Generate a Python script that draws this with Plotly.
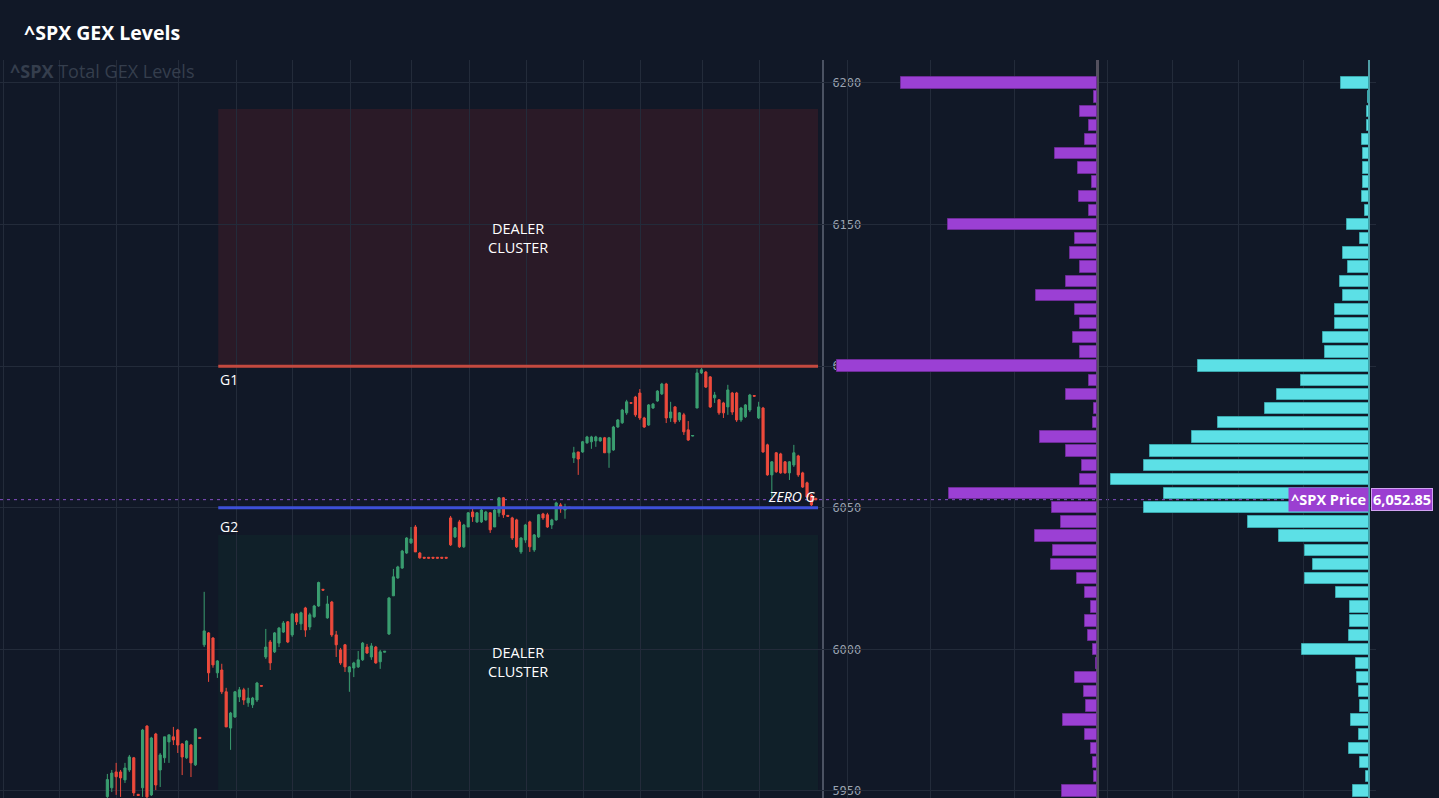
import plotly.graph_objects as go

# ---------------- data ----------------
title_text = "^SPX GEX Levels"
watermark_text = "<b>^SPX</b> Total GEX Levels"

opens = [5948.0, 5951.1, 5956.7, 5956.7, 5953.9, 5957.4, 5961.7, 5948.8, 5951.1, 5972.9,
         5948.6, 5970.1, 5957.4, 5961.7, 5967.3, 5969.1, 5971.5, 5966.6, 5961.7, 5966.2,
         5959.2, 5968.9, 6001.6, 6005.8, 6004.0, 5991.7, 5992.7, 5985.0, 5972.2, 5976.1,
         5983.2, 5985.7, 5981.1, 5980.4, 5982.1, 5987.2, 5997.3, 6002.6, 5999.1, 6002.2,
         6006.1, 6009.7, 6005.1, 6012.5, 6009.0, 6014.6, 6007.9, 6011.5, 6015.3, 6021.2,
         6011.1, 6016.7, 6005.1, 5999.8, 6001.6, 5992.0, 5993.4, 5993.8, 5996.3, 6000.8,
         5997.3, 6000.8, 5995.6, 5999.0, 6005.4, 6018.9, 6025.2, 6028.7, 6034.0, 6037.6,
         6043.2, 6034.0, 6032.5, 6032.5, 6032.5, 6032.5, 6032.5, 6032.5, 6046.4, 6039.7,
         6045.0, 6036.2, 6043.2, 6048.5, 6045.0, 6045.0, 6045.7, 6048.2, 6043.2, 6048.2,
         6053.5, 6047.3, 6046.4, 6045.7, 6034.4, 6038.6, 6045.0, 6035.1, 6039.7, 6047.8,
         6047.5, 6043.9, 6045.7, 6051.0, 6049.2, 6050.2, 6067.6, 6069.7, 6069.7, 6072.9,
         6073.3, 6073.6, 6073.6, 6074.7, 6069.4, 6070.4, 6078.5, 6080.0, 6083.5, 6087.1,
         6089.1, 6090.5, 6081.7, 6079.2, 6085.2, 6087.7, 6090.2, 6093.7, 6081.7, 6085.6,
         6081.0, 6082.8, 6077.5, 6075.3, 6085.2, 6097.6, 6097.9, 6096.2, 6088.8, 6088.1,
         6087.0, 6085.6, 6090.5, 6090.5, 6081.0, 6082.1, 6084.5, 6089.6, 6081.7, 6085.2,
         6072.2, 6061.6, 6069.4, 6069.0, 6066.2, 6062.3, 6065.1, 6068.3, 6062.3, 6058.8,
         6054.5, 6053.3]
highs = [5956.0, 5957.4, 5959.9, 5957.4, 5959.9, 5962.7, 5962.0, 5948.9, 5971.9, 5973.2,
         5969.1, 5970.5, 5963.4, 5969.1, 5969.8, 5972.6, 5971.9, 5966.9, 5967.9, 5966.6,
         5972.2, 5969.0, 6020.3, 6006.1, 6004.3, 5996.2, 5994.9, 5986.4, 5977.9, 5985.3,
         5986.7, 5986.4, 5986.4, 5983.2, 5988.5, 5987.3, 6007.2, 6003.3, 6006.1, 6007.9,
         6010.0, 6010.0, 6012.9, 6012.9, 6013.3, 6015.0, 6012.9, 6015.7, 6023.9, 6021.3,
         6018.9, 6017.1, 6006.5, 6000.5, 6001.9, 5994.1, 5995.6, 5999.4, 6002.6, 6001.9,
         6002.2, 6001.2, 5999.8, 5999.4, 6018.5, 6028.4, 6029.5, 6035.1, 6039.6, 6043.2,
         6043.9, 6034.4, 6032.6, 6032.6, 6032.6, 6032.6, 6032.6, 6032.6, 6047.1, 6043.2,
         6045.7, 6044.3, 6048.5, 6049.6, 6048.5, 6049.6, 6048.9, 6048.5, 6049.6, 6053.8,
         6053.8, 6047.4, 6046.8, 6046.1, 6039.6, 6044.3, 6045.4, 6040.7, 6047.8, 6048.2,
         6048.2, 6046.1, 6052.1, 6051.7, 6051.4, 6050.3, 6071.5, 6069.7, 6073.6, 6075.4,
         6075.4, 6075.4, 6075.0, 6075.0, 6075.0, 6078.9, 6081.3, 6084.9, 6088.1, 6087.2,
         6089.5, 6091.9, 6082.1, 6086.6, 6087.0, 6091.5, 6094.1, 6094.1, 6087.4, 6085.9,
         6083.8, 6083.5, 6080.6, 6075.6, 6099.0, 6099.4, 6098.3, 6096.5, 6090.9, 6088.4,
         6087.4, 6093.4, 6090.9, 6090.9, 6085.6, 6086.6, 6090.2, 6089.7, 6087.4, 6085.6,
         6072.6, 6066.5, 6069.7, 6069.4, 6066.5, 6066.5, 6072.2, 6068.7, 6062.7, 6059.2,
         6054.9, 6053.5]
lows = [5946.0, 5949.6, 5948.6, 5947.9, 5952.8, 5956.7, 5948.2, 5948.3, 5947.9, 5947.0,
        5948.2, 5950.3, 5951.4, 5959.9, 5959.9, 5966.2, 5963.4, 5955.6, 5961.3, 5954.9,
        5958.8, 5968.5, 6000.8, 5988.5, 5993.5, 5989.9, 5984.2, 5972.6, 5964.5, 5975.8,
        5981.4, 5980.4, 5979.7, 5979.3, 5981.4, 5986.9, 5996.6, 5992.7, 5998.7, 6000.8,
        6005.8, 6002.2, 6004.4, 6008.6, 6006.8, 6004.4, 6006.8, 6011.1, 6015.0, 6020.8,
        6010.8, 6004.4, 5997.3, 5994.5, 5992.0, 5985.0, 5990.2, 5993.4, 5995.9, 5998.4,
        5996.3, 5994.9, 5993.1, 5998.9, 6005.1, 6018.9, 6024.9, 6028.4, 6033.7, 6037.2,
        6034.4, 6032.0, 6032.1, 6032.1, 6032.1, 6032.1, 6032.1, 6032.1, 6036.5, 6039.3,
        6035.8, 6035.8, 6043.2, 6045.0, 6044.6, 6044.6, 6045.4, 6041.1, 6043.2, 6046.8,
        6046.4, 6046.9, 6038.6, 6035.8, 6033.7, 6037.6, 6034.4, 6034.4, 6039.3, 6045.7,
        6042.9, 6042.5, 6045.4, 6048.2, 6046.1, 6049.9, 6065.8, 6061.6, 6069.4, 6072.6,
        6070.8, 6071.5, 6073.3, 6069.4, 6064.1, 6070.1, 6078.2, 6079.6, 6082.8, 6086.8,
        6082.1, 6081.0, 6078.2, 6078.9, 6084.9, 6087.4, 6089.8, 6079.9, 6080.3, 6079.6,
        6080.3, 6075.7, 6073.6, 6075.2, 6085.2, 6097.2, 6092.3, 6085.2, 6087.0, 6082.8,
        6081.7, 6082.8, 6082.8, 6080.3, 6080.3, 6081.7, 6083.8, 6089.3, 6081.3, 6069.4,
        6061.3, 6053.8, 6062.3, 6062.0, 6062.0, 6059.8, 6064.4, 6060.9, 6057.0, 6053.5,
        6050.6, 6052.6]
closes = [5954.0, 5956.3, 5955.0, 5954.6, 5958.1, 5962.0, 5949.3, 5948.4, 5971.5, 5947.9,
          5968.7, 5952.1, 5962.7, 5969.1, 5969.8, 5968.0, 5966.2, 5962.0, 5967.6, 5959.9,
          5971.9, 5968.5, 6006.5, 5991.7, 5994.5, 5995.9, 5985.0, 5972.6, 5977.5, 5985.0,
          5985.7, 5982.1, 5982.8, 5982.8, 5988.1, 5987.0, 6000.8, 5995.2, 6005.8, 6007.5,
          6009.3, 6002.6, 6012.5, 6009.7, 6012.9, 6006.8, 6012.2, 6015.3, 6023.6, 6020.9,
          6016.0, 6005.1, 6001.6, 5995.2, 5993.8, 5993.8, 5995.2, 5996.3, 6002.2, 5998.7,
          6001.2, 5995.2, 5999.1, 5999.3, 6018.1, 6025.6, 6029.1, 6034.7, 6039.3, 6039.0,
          6034.4, 6032.3, 6032.2, 6032.2, 6032.2, 6032.2, 6032.2, 6032.2, 6036.9, 6042.9,
          6036.2, 6043.9, 6048.2, 6046.8, 6048.2, 6049.2, 6048.5, 6042.2, 6049.2, 6053.5,
          6047.5, 6047.0, 6039.3, 6036.2, 6039.3, 6043.9, 6036.2, 6040.4, 6047.5, 6046.4,
          6043.2, 6045.7, 6051.7, 6049.6, 6050.3, 6050.0, 6069.4, 6067.2, 6073.3, 6075.0,
          6075.0, 6075.0, 6074.7, 6069.4, 6074.7, 6078.5, 6081.0, 6084.5, 6087.4, 6086.9,
          6082.8, 6081.7, 6078.5, 6086.3, 6086.6, 6091.2, 6093.7, 6081.7, 6083.8, 6080.3,
          6083.5, 6076.8, 6073.9, 6075.5, 6097.6, 6098.7, 6092.6, 6085.6, 6089.8, 6083.5,
          6083.5, 6091.6, 6083.8, 6081.0, 6085.2, 6086.3, 6089.8, 6089.4, 6085.6, 6069.7,
          6061.6, 6066.2, 6062.7, 6062.3, 6062.3, 6066.2, 6069.4, 6061.6, 6057.3, 6053.8,
          6051.0, 6052.85]

strikes = [6200, 6195, 6190, 6185, 6180, 6175, 6170, 6165, 6160, 6155,
           6150, 6145, 6140, 6135, 6130, 6125, 6120, 6115, 6110, 6105,
           6100, 6095, 6090, 6085, 6080, 6075, 6070, 6065, 6060, 6055,
           6050, 6045, 6040, 6035, 6030, 6025, 6020, 6015, 6010, 6005,
           6000, 5995, 5990, 5985, 5980, 5975, 5970, 5965, 5960, 5955, 5950]
gex_purple = [-2.36, -0.04, -0.20, -0.10, -0.14, -0.51, -0.23, -0.06, -0.22, -0.10,
              -1.80, -0.27, -0.33, -0.20, -0.37, -0.73, -0.27, -0.20, -0.29, -0.20,
              -3.13, -0.10, -0.37, -0.04, -0.05, -0.69, -0.37, -0.18, -0.20, -1.78,
              -0.54, -0.43, -0.75, -0.53, -0.55, -0.24, -0.14, -0.07, -0.14, -0.11,
              -0.05, -0.01, -0.27, -0.16, -0.13, -0.41, -0.14, -0.07, -0.05, -0.04, -0.42]
gex_cyan = [-0.43, -0.02, -0.03, -0.03, -0.11, -0.09, -0.09, -0.09, -0.11, -0.06,
            -0.34, -0.14, -0.40, -0.32, -0.44, -0.40, -0.52, -0.52, -0.70, -0.67,
            -2.61, -1.04, -1.40, -1.59, -2.31, -2.70, -3.34, -3.44, -3.94, -3.13,
            -3.44, -1.85, -1.37, -0.98, -0.85, -0.98, -0.50, -0.29, -0.29, -0.31,
            -1.02, -0.20, -0.18, -0.15, -0.14, -0.27, -0.15, -0.31, -0.14, -0.05, -0.24]

price_now = 6052.85
price_label = "6,052.85"
g1_level = 6100
g2_level = 6050
upper_cluster = [6100, 6190.8]
lower_cluster = [5950.3, 6040.4]
zone_x = [25.2, 161.5]
y_ticks = [5950, 6000, 6050, 6100, 6150, 6200]
x_grid = [-23.6, -10.9, 2.1, 16.1, 29.3, 42.1, 55.2, 69.1, 82.3, 95.3, 108.2, 121.2, 135.3, 148.3]

# ---------------- styling ----------------
BG = "#111827"
GRID = "#232b3a"
W, H = 1439, 798
d1, d2, d3 = 822 / W, 1101 / W, 1376 / W
FONT = "Open Sans, Arial, sans-serif"

bar_idx = list(range(len(opens)))

fig = go.Figure()

fig.add_trace(go.Candlestick(
    x=bar_idx, open=opens, high=highs, low=lows, close=closes,
    xaxis="x", yaxis="y",
    increasing=dict(line=dict(color="#3a9e70", width=1), fillcolor="#3a9e70"),
    decreasing=dict(line=dict(color="#ee4a3c", width=1), fillcolor="#ee4a3c"),
    whiskerwidth=0, showlegend=False, hoverinfo="skip",
))

fig.add_trace(go.Bar(
    y=strikes, x=gex_purple, orientation="h", width=4,
    xaxis="x2", yaxis="y",
    marker=dict(color="#9b40d4", line=dict(color="#6e2c98", width=1)),
    showlegend=False, hoverinfo="skip",
))
fig.add_trace(go.Bar(
    y=strikes, x=gex_cyan, orientation="h", width=4,
    xaxis="x3", yaxis="y",
    marker=dict(color="#5ce0e6", line=dict(color="#3aa7ad", width=1)),
    showlegend=False, hoverinfo="skip",
))

shapes = [
    dict(type="rect", xref="x", yref="y", x0=zone_x[0], x1=zone_x[1],
         y0=upper_cluster[0], y1=upper_cluster[1],
         fillcolor="rgba(200,40,45,0.14)", line=dict(width=0), layer="below"),
    dict(type="rect", xref="x", yref="y", x0=zone_x[0], x1=zone_x[1],
         y0=lower_cluster[0], y1=lower_cluster[1],
         fillcolor="rgba(10,110,60,0.10)", line=dict(width=0), layer="below"),
    dict(type="line", xref="paper", yref="y", x0=0, x1=1284 / W,
         y0=price_now, y1=price_now,
         line=dict(color="rgba(155,90,225,0.85)", width=1, dash="3px,4px"), layer="below"),
    dict(type="line", xref="x", yref="y", x0=zone_x[0], x1=zone_x[1],
         y0=g1_level, y1=g1_level, line=dict(color="#c4493f", width=3)),
    dict(type="line", xref="x", yref="y", x0=zone_x[0], x1=zone_x[1],
         y0=g2_level, y1=g2_level, line=dict(color="#3d50d8", width=3)),
]

white = dict(color="#ffffff", size=14.5, family=FONT)
glab = dict(color="#ffffff", size=14, family=FONT)
annotations = [
    dict(text=watermark_text, xref="paper", yref="paper", x=8 / W, y=(H - 71) / (H - 60),
         xanchor="left", yanchor="middle", showarrow=False,
         font=dict(color="#353e4d", size=18, family=FONT)),
    dict(text="DEALER<br>CLUSTER", xref="x", yref="y", x=sum(zone_x) / 2,
         y=sum(upper_cluster) / 2, showarrow=False, font=white),
    dict(text="DEALER<br>CLUSTER", xref="x", yref="y", x=sum(zone_x) / 2,
         y=sum(lower_cluster) / 2, showarrow=False, font=white),
    dict(text="G1", xref="x", yref="y", x=zone_x[0], y=g1_level, xanchor="left",
         yanchor="top", yshift=-2, xshift=0, showarrow=False, font=glab),
    dict(text="G2", xref="x", yref="y", x=zone_x[0], y=g2_level, xanchor="left",
         yanchor="top", yshift=-7, xshift=0, showarrow=False, font=glab),
    dict(text="<i>ZERO G</i>", xref="x", yref="y", x=zone_x[1], y=g2_level,
         xanchor="right", yanchor="bottom", yshift=0, xshift=-1, showarrow=False,
         font=dict(color="#ffffff", size=14, family=FONT)),
    dict(text="<b>^SPX Price</b>", xref="paper", yref="y", x=1369 / W, y=price_now,
         xanchor="right", yanchor="middle", showarrow=False, bgcolor="#9b3fd1",
         borderpad=2, font=dict(color="#ffffff", size=14.5, family=FONT)),
    dict(text="<b>" + price_label + "</b>", xref="paper", yref="y", x=1371 / W, y=price_now,
         xanchor="left", yanchor="middle", showarrow=False, bgcolor="#9b3fd1",
         bordercolor="#d2a2f2", borderwidth=1, borderpad=1,
         font=dict(color="#ffffff", size=14.5, family=FONT)),
]

fig.update_layout(
    width=W, height=H,
    margin=dict(l=0, r=0, t=60, b=0),
    paper_bgcolor=BG, plot_bgcolor="rgba(0,0,0,0)",
    showlegend=False, hovermode=False, bargap=0,
    title=dict(text="<b>" + title_text + "</b>", x=24 / W, xanchor="left",
               y=1 - 33 / H, yanchor="middle", yref="container",
               font=dict(color="#ffffff", size=19.5, family=FONT)),
    xaxis=dict(domain=[0, d1], range=[-24.4, 162.4], showticklabels=False,
               tickmode="array", tickvals=x_grid, ticks="", showgrid=True, gridcolor=GRID,
               zeroline=False, rangeslider=dict(visible=False), anchor="y"),
    xaxis2=dict(domain=[d1, d2], range=[-3.313, 0.048], showticklabels=False,
                tickmode="linear", tick0=0, dtick=1, ticks="", showgrid=True, gridcolor=GRID,
                zeroline=True, zerolinecolor="#54505e", zerolinewidth=3, anchor="y"),
    xaxis3=dict(domain=[d2, d3], range=[-4.092, 0.107], showticklabels=False,
                tickmode="linear", tick0=0, dtick=1, ticks="", showgrid=True, gridcolor=GRID,
                zeroline=True, zerolinecolor="#4f9ea6", zerolinewidth=2, anchor="y"),
    yaxis=dict(domain=[0, 1], range=[5947.5, 6208.1], anchor="x", side="right",
               tickmode="array", tickvals=y_ticks, tickformat="d",
               ticks="outside", ticklen=6, tickcolor="rgba(0,0,0,0)",
               ticklabeloverflow="allow",
               showline=True, linecolor="#4b5262", linewidth=2,
               showgrid=True, gridcolor=GRID, zeroline=False,
               tickfont=dict(color="#9aa3b2", size=12, family="DejaVu Sans Mono, monospace")),
    shapes=shapes,
    annotations=annotations,
)

fig.write_html("out.html", config={"displayModeBar": False},
               post_script="document.body.style.margin='0';")
